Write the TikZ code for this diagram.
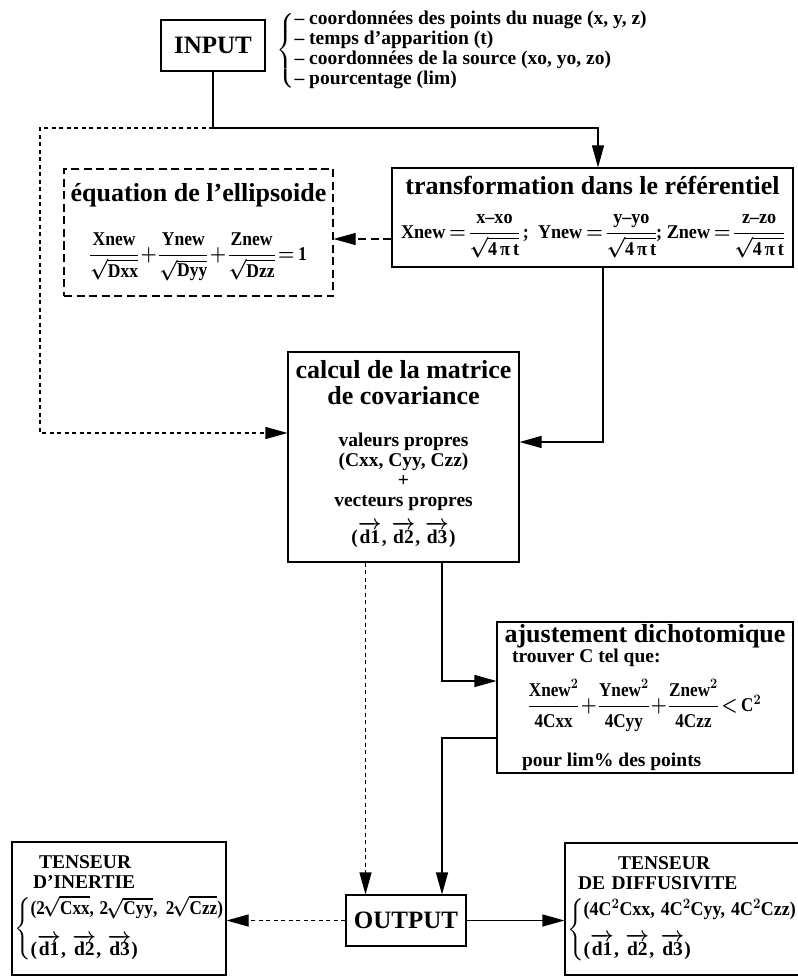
\documentclass[tikz,border=0pt]{standalone}
\usepackage{amsmath}
\usepackage{graphicx}
\usepackage{fontspec}
\setmainfont{Liberation Serif}
\usetikzlibrary{positioning, arrows.meta}

\newcommand\bigtxt{\fontsize{26}{27}\selectfont}
\newcommand\midtxt{\fontsize{19.5}{20}\selectfont}
\newcommand\listtxt{\fontsize{19.5}{20}\selectfont}
\newcommand\dvec[1]{\overrightarrow{\text{d#1}}}
\newcommand\rtt[1]{\mkern-2mu\sqrt{\text{#1}}}
\medmuskip=2mu
\thickmuskip=3mu
\nulldelimiterspace=0pt

\begin{document}
\begin{tikzpicture}[x=1pt, y=-1pt,
    % Define the style for the boxes
    block/.style={
        rectangle,
        draw,
        line width=1.1pt,
        inner sep=2pt,
        align=center,
        font=\bfseries\boldmath\midtxt
    },
    dashbox/.style={
        block,
        dash pattern=on 8pt off 4.5pt
    },
    % Define the style for the arrows
    wire/.style={
        draw,
        line width=1.1pt
    },
    line/.style={
        wire,
        -{Triangle[length=22pt, width=12pt]}
    },
    dotline/.style={
        line,
        dash pattern=on 4pt off 3.5pt
    },
    dashline/.style={
        line,
        dash pattern=on 8pt off 4.5pt
    }
]
    \useasboundingbox (0,0) rectangle (797,976);

    % Place the nodes (boxes)
    \node [block, minimum width=104pt, minimum height=51pt, font=\bfseries\fontsize{25}{26}\selectfont] (input) at (213,45.5) {INPUT};
    \node [anchor=west, inner sep=0pt, font=\bfseries\listtxt] (inlist) at (276,50.5)
        {\delimitershortfall=6pt\relax
         $\left\{\begin{tabular}{@{}l@{}}– coordonnées des points du nuage (x, y, z)\\– temps d’apparition (t)\\– coordonnées de la source (xo, yo, zo)\\– pourcentage (lim)\end{tabular}\right.$};

    \node [block, minimum width=401pt, minimum height=99pt] (transf) at (592.5,217.5)
        {{\bigtxt transformation dans le référentiel}\\[18pt]
         \scalebox{0.93}[1]{$\text{Xnew} = \dfrac{\text{x–xo}}{\sqrt{\text{4\,π\,t}}}\,\text{;}\ \ \text{Ynew} = \dfrac{\text{y–yo}}{\sqrt{\text{4\,π\,t}}}\text{;}\ \text{Znew} = \dfrac{\text{z–zo}}{\sqrt{\text{4\,π\,t}}}$}};

    \node [dashbox, minimum width=269pt, minimum height=127pt] (ellips) at (198.5,232.5)
        {{\bigtxt équation de l’ellipsoide}\\[24pt]
         \scalebox{0.9}[1]{$\dfrac{\text{Xnew}}{\sqrt{\text{Dxx}}}+\dfrac{\text{Ynew}}{\sqrt{\text{Dyy}}}+\dfrac{\text{Znew}}{\sqrt{\text{Dzz}}}=\text{1}$}};

    \node [block, minimum width=231pt, minimum height=210pt] (calcmat) at (403.5,457)
        {{\bigtxt calcul de la matrice}\\[6pt]
         {\bigtxt de covariance}\\[22pt]
         valeurs propres\\(Cxx, Cyy, Czz)\\+\\vecteurs propres\\[10pt]
         ($\dvec{1}$, $\dvec{2}$, $\dvec{3}$)\\[-10pt]};

    \node [block, minimum width=296pt, minimum height=151pt] (ajust) at (645,697.5)
        {{\bigtxt ajustement dichotomique}\\
         \makebox[270pt][l]{\hspace{2pt}trouver C tel que:}\\[12pt]
         \scalebox{0.88}[1]{$\dfrac{\text{Xnew}^{2}}{\text{4Cxx}}+\dfrac{\text{Ynew}^{2}}{\text{4Cyy}}+\dfrac{\text{Znew}^{2}}{\text{4Czz}}<\text{C}^{2}$}\\[20pt]
         \makebox[270pt][l]{\hspace{12pt}pour lim\% des points}};

    \node [block, minimum width=120pt, minimum height=51pt, font=\bfseries\fontsize{25}{26}\selectfont] (output) at (406,920.5) {OUTPUT};

    \node [block, text width=210pt, minimum height=133pt, align=left] (inertie) at (119,908.5)
        {\hspace*{25pt}TENSEUR\\
         \hspace*{19pt}D’INERTIE\\[6pt]
         $\left\{\begin{tabular}{@{}l@{}}\scalebox{0.88}[1]{(2$\rtt{Cxx}$, 2$\rtt{Cyy}$,\ \,2$\rtt{Czz}$)}\\[14pt]($\dvec{1}$, $\dvec{2}$, $\dvec{3}$)\end{tabular}\right.$\\[8pt]};

    \node [block, text width=261pt, minimum height=132pt, align=left] (diffus) at (697.5,909)
        {\hspace*{51pt}TENSEUR\\
         \hspace*{11pt}DE DIFFUSIVITE\\[8pt]
         $\left\{\begin{tabular}{@{}l@{}}\scalebox{0.92}[1]{(4C$^{2}$Cxx, 4C$^{2}$Cyy, 4C$^{2}$Czz)}\\[12pt]($\dvec{1}$, $\dvec{2}$, $\dvec{3}$)\end{tabular}\right.$\\[6pt]};

    % Junction points
    \coordinate (splitrow) at (0,128);
    \coordinate (split) at (input.south |- splitrow);
    \coordinate (leftcorner) at (40,433);

    % Draw the arrows
    \path [wire] (input.south) -- (split);
    \path [line] (split) -| ([xshift=5.5pt]transf.north);
    \path [dotline] (split) -| (leftcorner) -- (leftcorner -| calcmat.west);
    \path [dashline] ([yshift=-6.5pt]ellips.east -| transf.west) -- ([yshift=-6.5pt]ellips.east);
    \path [line] ([xshift=10.5pt]transf.south) |- ([yshift=15pt]calcmat.east);
    \path [line] ([xshift=38.5pt]calcmat.south) |- ([yshift=16.5pt]ajust.west);
    \path [line] ([yshift=-40.5pt]ajust.west) -| ([xshift=36pt]output.north);
    \path [dotline] ([xshift=-38pt]calcmat.south) -- ([xshift=-38pt]calcmat.south |- output.north);
    \path [line] (output.east) -- (output.east -| diffus.west);
    \path [dotline] (output.west) -- (output.west -| inertie.east);

\end{tikzpicture}
\end{document}
